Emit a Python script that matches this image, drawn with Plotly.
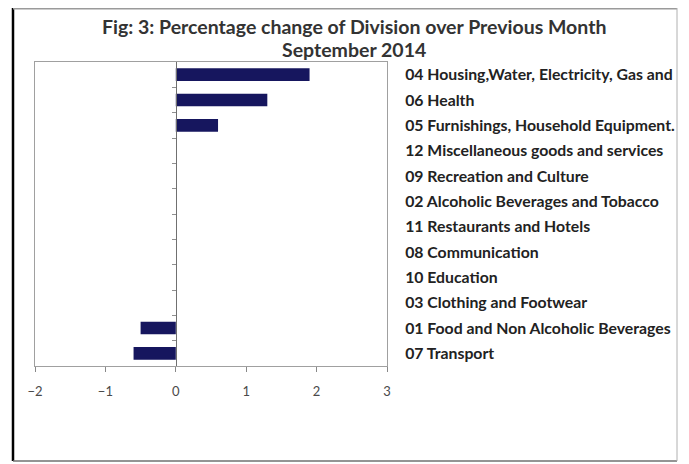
import plotly.graph_objects as go

categories = [
    "04 Housing,Water, Electricity, Gas and",
    "06 Health",
    "05 Furnishings, Household Equipment.",
    "12 Miscellaneous goods and services",
    "09 Recreation and Culture",
    "02 Alcoholic Beverages and Tobacco",
    "11 Restaurants and Hotels",
    "08 Communication",
    "10 Education",
    "03 Clothing and Footwear",
    "01 Food and Non Alcoholic Beverages",
    "07 Transport",
]
values = [1.9, 1.3, 0.6, 0.0, 0.0, 0.0, 0.0, 0.0, 0.0, 0.0, -0.5, -0.6]
x_ticks = [-2, -1, 0, 1, 2, 3]
title_line1 = "Fig: 3: Percentage change of Division over Previous Month"
title_line2 = "September 2014"

W, H = 689, 464
OFF = 8  # page body margin
Wf, Hf = W - OFF, H - OFF


def px(x):
    return (x - OFF) / Wf


def py(y):
    return 1 - (y - OFF) / Hf


xdom = [px(35), px(387)]
ydom = [py(366), py(62)]
xmin, xmax = x_ticks[0], x_ticks[-1]
zero_paper = xdom[0] + (0 - xmin) / (xmax - xmin) * (xdom[1] - xdom[0])

fig = go.Figure()
fig.add_trace(go.Bar(
    x=values, y=categories, orientation="h",
    marker=dict(color="#16165e", line=dict(color="#0a0a3a", width=0)),
    width=0.5, showlegend=False,
))
# helper trace so the zero-position category axis is drawn
fig.add_trace(go.Scatter(x=[None], y=[None], yaxis="y2", showlegend=False,
                         hoverinfo="skip"))

fig.update_layout(
    template="none",
    width=Wf, height=Hf,
    margin=dict(l=0, r=0, t=0, b=0, pad=0),
    paper_bgcolor="white", plot_bgcolor="white",
    font=dict(family="Lato, Calibri, sans-serif"),
    xaxis=dict(
        domain=xdom, range=[xmin, xmax], tickvals=x_ticks, automargin=False,
        ticks="outside", ticklen=5, tickcolor="#888888",
        showgrid=False, zeroline=False,
        showline=True, mirror=True, linecolor="#a0a0a0", linewidth=1,
        ticklabelstandoff=8,
        tickfont=dict(size=13, color="#4a4a4a"),
    ),
    yaxis=dict(
        domain=ydom, categoryorder="array", categoryarray=categories,
        autorange="reversed", side="right", automargin=False,
        showgrid=False, zeroline=False, ticks="",
        showline=True, mirror=True, linecolor="#a0a0a0", linewidth=1,
        ticklabelstandoff=14,
        tickfont=dict(size=15.8, color="#222222", family="Lato, sans-serif",
                      weight="bold"),
    ),
    yaxis2=dict(
        overlaying="y", anchor="free", position=zero_paper, side="left",
        automargin=False,
        range=[0, len(categories)], tickvals=list(range(1, len(categories))),
        showticklabels=False, ticks="outside", ticklen=4, tickcolor="#909090",
        showgrid=False, zeroline=False,
        showline=True, linecolor="#707070", linewidth=1,
    ),
    annotations=[
        dict(text=f"<b>{title_line1}</b>", xref="paper", yref="paper",
             x=px(354), y=py(27), xanchor="center", yanchor="middle",
             showarrow=False, font=dict(size=19.5, color="#333333")),
        dict(text=f"<b>{title_line2}</b>", xref="paper", yref="paper",
             x=px(354), y=py(50), xanchor="center", yanchor="middle",
             showarrow=False, font=dict(size=19.5, color="#333333")),
    ],
    shapes=[
        dict(type="line", xref="paper", yref="paper", x0=px(13), x1=px(13),
             y0=py(8), y1=py(461), line=dict(color="black", width=2.5)),
        dict(type="line", xref="paper", yref="paper", x0=px(13), x1=px(677),
             y0=py(8.8), y1=py(8.8), line=dict(color="#9a9a9a", width=1.5)),
        dict(type="line", xref="paper", yref="paper", x0=px(13), x1=px(677),
             y0=py(461), y1=py(461), line=dict(color="#707070", width=1.5)),
        dict(type="line", xref="paper", yref="paper", x0=px(677), x1=px(677),
             y0=py(8), y1=py(461), line=dict(color="#b0b0b0", width=1)),
    ],
)

fig.write_html("out.html")
